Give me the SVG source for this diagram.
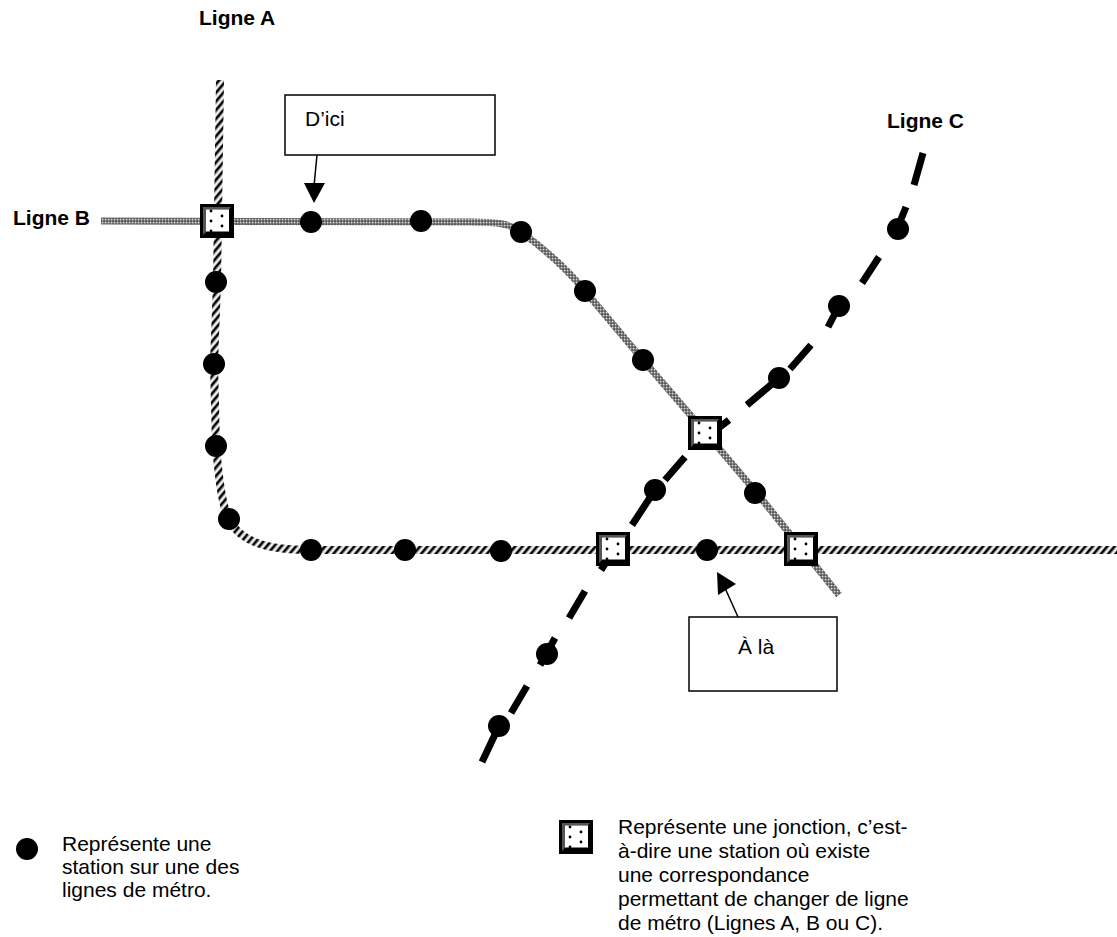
<svg xmlns="http://www.w3.org/2000/svg" width="1117" height="937" viewBox="0 0 1117 937">
<style>
text{font-family:"Liberation Sans",Arial,sans-serif;font-size:21px;fill:#000}
.b{font-weight:bold}
.la{fill:none;stroke:url(#rope);stroke-width:8}
.lb{fill:none;stroke:url(#check);stroke-width:7}
.lc{fill:none;stroke:#000;stroke-width:7}
.st{fill:#000}
.box{fill:#fff;stroke:#000;stroke-width:1.5}
.arr{fill:none;stroke:#000;stroke-width:1.5}
</style>
<defs>
<pattern id="rope" patternUnits="userSpaceOnUse" width="5.6" height="5.6" patternTransform="rotate(-50)">
<rect width="5.6" height="5.6" fill="#fff"/>
<rect width="5.6" height="2.4" fill="#000"/>
<rect y="2.4" width="5.6" height="0.7" fill="#888"/>
<rect y="4.9" width="5.6" height="0.7" fill="#888"/>
</pattern>
<pattern id="check" patternUnits="userSpaceOnUse" width="3" height="3">
<rect width="3" height="3" fill="#808080"/>
<rect width="1.2" height="1.2" fill="#dcdcdc"/>
<rect x="1.5" y="1.5" width="1.2" height="1.2" fill="#2a2a2a"/>
</pattern>
<g id="j">
<rect width="34" height="34" fill="#000"/>
<path d="M3 3H31L29 5.5H6V28L3 31Z" fill="#555"/>
<rect x="6" y="5.5" width="23" height="22" fill="#fff"/>
<circle cx="11" cy="7" r="1.4"/><circle cx="22" cy="12" r="1.4"/><circle cx="11" cy="17" r="1.4"/><circle cx="22" cy="22" r="1.4"/><circle cx="11" cy="27" r="1.4"/>
</g>
</defs>
<g id="connectors">
<path class="la" d="M220,80 L217,282 L214,364 L216,446 C219,480 222,505 229,520 C240,540 262,550 311,550 L1117,550"/>
<path class="lb" d="M101,221 L470,222 C500,222 510,224 521,232 C542,247 566,268 585,291 L643,360 L705,432 L756,492 L839,595"/>
<path class="lc" d="M923,153L914,185M906,207L897,229M879,257L862,283M839,306L828,327M811,345L790,369M779,378L747,405M729,420L716,430M685,457L665,480M655,490L632,525M612,553L601,570M585,591L569,618M555,638L540,665M527,686L511,713M499,726L482,762"/>
<path class="arr" d="M317,155L314,186"/>
<path d="M304,183L325,183L314,203Z"/>
<path class="arr" d="M738,617L725,588"/>
<path d="M717,572L718,595L736,584Z"/>
</g>
<g id="station-a"><circle class="st" cx="216" cy="282" r="11"/><circle class="st" cx="214" cy="364" r="11"/><circle class="st" cx="216" cy="446" r="11"/><circle class="st" cx="229" cy="519" r="11"/><circle class="st" cx="311" cy="550" r="11"/><circle class="st" cx="405" cy="550" r="11"/><circle class="st" cx="501" cy="551" r="11"/><circle class="st" cx="707" cy="550" r="11"/></g>
<g id="station-b"><circle class="st" cx="311" cy="222" r="11"/><circle class="st" cx="421" cy="221" r="11"/><circle class="st" cx="521" cy="232" r="11"/><circle class="st" cx="585" cy="291" r="11"/><circle class="st" cx="643" cy="360" r="11"/><circle class="st" cx="755" cy="493" r="11"/></g>
<g id="station-c"><circle class="st" cx="898" cy="229" r="11"/><circle class="st" cx="839" cy="306" r="11"/><circle class="st" cx="779" cy="378" r="11"/><circle class="st" cx="655" cy="490" r="11"/><circle class="st" cx="547" cy="654" r="11"/><circle class="st" cx="499" cy="726" r="11"/></g>
<use id="junction-1" href="#j" x="200" y="204"/>
<use id="junction-2" href="#j" x="688" y="416"/>
<use id="junction-3" href="#j" x="596" y="532"/>
<use id="junction-4" href="#j" x="784" y="532"/>
<g id="box-dici"><rect class="box" x="285" y="95" width="210" height="60"/><text x="305" y="126">D’ici</text></g>
<g id="box-ala"><rect class="box" x="689" y="617" width="148" height="74"/><text x="756" y="654" text-anchor="middle">À là</text></g>
<g id="label-a"><text class="b" x="199" y="25">Ligne A</text></g>
<g id="label-b"><text class="b" x="13" y="225">Ligne B</text></g>
<g id="label-c"><text class="b" x="887" y="128">Ligne C</text></g>
<g id="legend-station"><circle class="st" cx="27" cy="849" r="11"/>
<text x="62" y="851">Représente une</text><text x="62" y="874">station sur une des</text><text x="62" y="897">lignes de métro.</text></g>
<g id="legend-junction"><use href="#j" x="559" y="820"/>
<text x="618" y="834">Représente une jonction, c’est-</text><text x="618" y="858">à-dire une station où existe</text><text x="618" y="882">une correspondance</text><text x="618" y="906">permettant de changer de ligne</text><text x="618" y="930">de métro (Lignes A, B ou C).</text></g>
</svg>
